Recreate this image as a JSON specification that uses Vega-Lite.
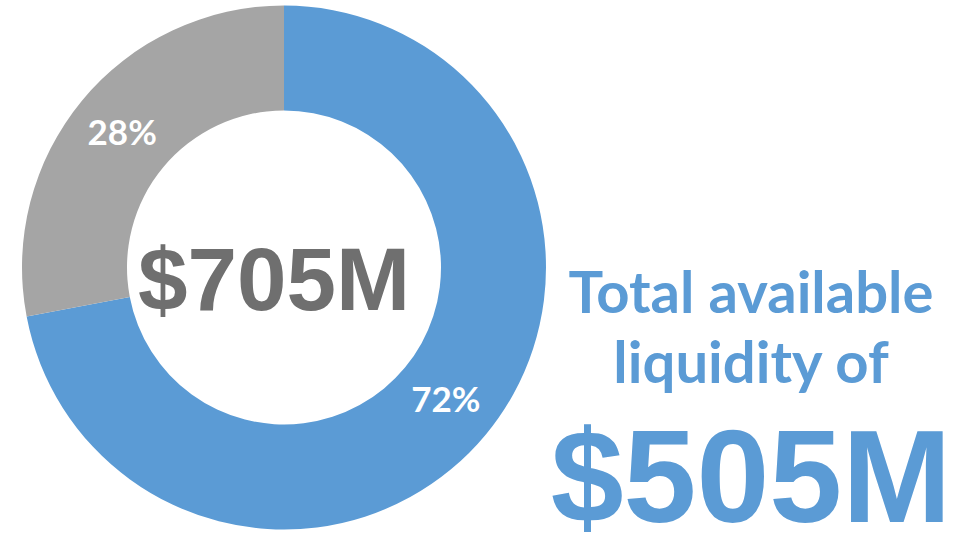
{
  "$schema": "https://vega.github.io/schema/vega-lite/v6.json",
  "background": "white",
  "padding": 0,
  "spacing": 0,
  "bounds": "flush",
  "config": {"view": {"stroke": null}, "concat": {"spacing": 0}},
  "datasets": {
    "shares": [
      {"segment": "Available liquidity", "share": 0.72},
      {"segment": "Other", "share": 0.28}
    ],
    "total": [{"label": "$705M"}],
    "caption": [
      {"kind": "caption", "text": "Total available\nliquidity of"},
      {"kind": "amount", "text": "$505M"}
    ]
  },
  "hconcat": [
    {
      "width": 568,
      "height": 535,
      "layer": [
        {
          "data": {"name": "shares"},
          "mark": {"type": "arc", "outerRadius": 262, "innerRadius": 157},
          "encoding": {
            "theta": {"field": "share", "type": "quantitative", "stack": true},
            "order": {"field": "share", "type": "quantitative", "sort": "descending"},
            "color": {
              "field": "segment",
              "type": "nominal",
              "scale": {"domain": ["Available liquidity", "Other"], "range": ["#5B9BD5", "#A5A5A5"]},
              "legend": null
            }
          }
        },
        {
          "data": {"name": "shares"},
          "mark": {"type": "text", "radius": 210, "font": "Lato", "fontWeight": "bold", "fontSize": 35, "color": "white", "baseline": "middle", "align": "center"},
          "encoding": {
            "theta": {"field": "share", "type": "quantitative", "stack": true},
            "order": {"field": "share", "type": "quantitative", "sort": "descending"},
            "text": {"field": "share", "type": "quantitative", "format": ".0%"}
          }
        },
        {
          "data": {"name": "total"},
          "mark": {"type": "text", "font": "Liberation Sans", "fontWeight": "bold", "fontSize": 89, "color": "#6F6F6F", "baseline": "middle", "align": "center", "dx": -10, "dy": 15},
          "encoding": {
            "text": {"field": "label", "type": "nominal"}
          }
        }
      ]
    },
    {
      "width": 366,
      "height": 535,
      "data": {"name": "caption"},
      "encoding": {
        "y": {
          "field": "kind",
          "type": "nominal",
          "scale": {"type": "point", "domain": ["caption", "amount"], "padding": 0.78, "align": 0.96},
          "axis": null
        },
        "text": {"field": "text", "type": "nominal"}
      },
      "layer": [
        {
          "transform": [{"filter": "datum.kind === 'caption'"}],
          "mark": {"type": "text", "font": "Lato", "fontWeight": "bold", "fontSize": 58, "lineHeight": 70, "lineBreak": "\n", "color": "#5B9BD5", "baseline": "alphabetic", "align": "center"}
        },
        {
          "transform": [{"filter": "datum.kind === 'amount'"}],
          "mark": {"type": "text", "font": "Liberation Sans", "fontWeight": "bold", "fontSize": 131, "color": "#5B9BD5", "baseline": "alphabetic", "align": "center"}
        }
      ]
    }
  ]
}
